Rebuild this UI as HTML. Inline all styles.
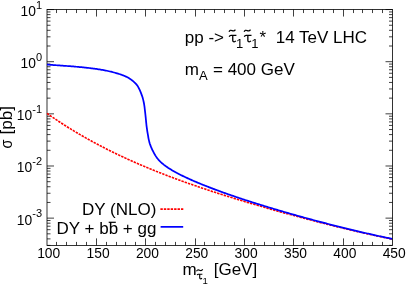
<!DOCTYPE html>
<html><head><meta charset="utf-8"><style>
html,body{margin:0;padding:0;background:#fff;}
svg{display:block;}
text{font-family:"Liberation Sans",sans-serif;fill:#000;}
</style></head><body>
<svg width="407" height="285" viewBox="0 0 407 285">
<rect width="407" height="285" fill="#fff"/>
<path d="M56.50,245.40v-3.5M56.50,9.55v3.5M66.50,245.40v-3.5M66.50,9.55v3.5M76.50,245.40v-3.5M76.50,9.55v3.5M86.50,245.40v-3.5M86.50,9.55v3.5M96.50,245.40v-7.0M96.50,9.55v7.0M106.50,245.40v-3.5M106.50,9.55v3.5M116.50,245.40v-3.5M116.50,9.55v3.5M125.50,245.40v-3.5M125.50,9.55v3.5M135.50,245.40v-3.5M135.50,9.55v3.5M145.50,245.40v-7.0M145.50,9.55v7.0M155.50,245.40v-3.5M155.50,9.55v3.5M165.50,245.40v-3.5M165.50,9.55v3.5M175.50,245.40v-3.5M175.50,9.55v3.5M185.50,245.40v-3.5M185.50,9.55v3.5M195.50,245.40v-7.0M195.50,9.55v7.0M204.50,245.40v-3.5M204.50,9.55v3.5M214.50,245.40v-3.5M214.50,9.55v3.5M224.50,245.40v-3.5M224.50,9.55v3.5M234.50,245.40v-3.5M234.50,9.55v3.5M244.50,245.40v-7.0M244.50,9.55v7.0M254.50,245.40v-3.5M254.50,9.55v3.5M264.50,245.40v-3.5M264.50,9.55v3.5M274.50,245.40v-3.5M274.50,9.55v3.5M283.50,245.40v-3.5M283.50,9.55v3.5M293.50,245.40v-7.0M293.50,9.55v7.0M303.50,245.40v-3.5M303.50,9.55v3.5M313.50,245.40v-3.5M313.50,9.55v3.5M323.50,245.40v-3.5M323.50,9.55v3.5M333.50,245.40v-3.5M333.50,9.55v3.5M343.50,245.40v-7.0M343.50,9.55v7.0M353.50,245.40v-3.5M353.50,9.55v3.5M362.50,245.40v-3.5M362.50,9.55v3.5M372.50,245.40v-3.5M372.50,9.55v3.5M382.50,245.40v-3.5M382.50,9.55v3.5M47.00,245.40h3.5M392.50,245.40h-3.5M47.00,238.88h3.5M392.50,238.88h-3.5M47.00,233.83h3.5M392.50,233.83h-3.5M47.00,229.70h3.5M392.50,229.70h-3.5M47.00,226.21h3.5M392.50,226.21h-3.5M47.00,223.19h3.5M392.50,223.19h-3.5M47.00,220.52h3.5M392.50,220.52h-3.5M47.00,218.13h7.0M392.50,218.13h-7.0M47.00,202.44h3.5M392.50,202.44h-3.5M47.00,193.25h3.5M392.50,193.25h-3.5M47.00,186.74h3.5M392.50,186.74h-3.5M47.00,181.69h3.5M392.50,181.69h-3.5M47.00,177.56h3.5M392.50,177.56h-3.5M47.00,174.07h3.5M392.50,174.07h-3.5M47.00,171.04h3.5M392.50,171.04h-3.5M47.00,168.37h3.5M392.50,168.37h-3.5M47.00,165.99h7.0M392.50,165.99h-7.0M47.00,150.29h3.5M392.50,150.29h-3.5M47.00,141.11h3.5M392.50,141.11h-3.5M47.00,134.59h3.5M392.50,134.59h-3.5M47.00,129.54h3.5M392.50,129.54h-3.5M47.00,125.41h3.5M392.50,125.41h-3.5M47.00,121.92h3.5M392.50,121.92h-3.5M47.00,118.90h3.5M392.50,118.90h-3.5M47.00,116.23h3.5M392.50,116.23h-3.5M47.00,113.84h7.0M392.50,113.84h-7.0M47.00,98.14h3.5M392.50,98.14h-3.5M47.00,88.96h3.5M392.50,88.96h-3.5M47.00,82.45h3.5M392.50,82.45h-3.5M47.00,77.39h3.5M392.50,77.39h-3.5M47.00,73.26h3.5M392.50,73.26h-3.5M47.00,69.77h3.5M392.50,69.77h-3.5M47.00,66.75h3.5M392.50,66.75h-3.5M47.00,64.08h3.5M392.50,64.08h-3.5M47.00,61.70h7.0M392.50,61.70h-7.0M47.00,46.00h3.5M392.50,46.00h-3.5M47.00,36.82h3.5M392.50,36.82h-3.5M47.00,30.30h3.5M392.50,30.30h-3.5M47.00,25.25h3.5M392.50,25.25h-3.5M47.00,21.12h3.5M392.50,21.12h-3.5M47.00,17.63h3.5M392.50,17.63h-3.5M47.00,14.60h3.5M392.50,14.60h-3.5M47.00,11.94h3.5M392.50,11.94h-3.5M47.00,9.55h7.0M392.50,9.55h-7.0" fill="none" stroke="#000" stroke-width="0.75"/>
<rect x="47.0" y="9.55" width="345.50" height="235.85" fill="none" stroke="#000" stroke-width="0.8"/>
<path d="M47.00,113.39 L47.76,113.92 L48.52,114.45 L49.28,114.98 L50.04,115.51 L50.80,116.04 L51.56,116.56 L52.32,117.09 L53.09,117.61 L53.86,118.13 L54.62,118.65 L55.39,119.16 L56.16,119.68 L56.93,120.19 L57.70,120.71 L58.48,121.22 L59.25,121.73 L60.02,122.23 L60.80,122.74 L61.58,123.25 L62.35,123.75 L63.13,124.25 L63.91,124.75 L64.69,125.25 L65.47,125.74 L66.26,126.24 L67.04,126.73 L67.83,127.23 L68.61,127.72 L69.40,128.20 L70.19,128.69 L70.97,129.18 L71.76,129.66 L72.55,130.14 L73.35,130.62 L74.14,131.10 L74.93,131.58 L75.73,132.06 L76.52,132.53 L77.32,133.01 L78.12,133.48 L78.91,133.95 L79.71,134.42 L80.51,134.88 L81.31,135.35 L82.12,135.81 L82.92,136.27 L83.72,136.73 L84.53,137.19 L85.33,137.65 L86.14,138.11 L86.94,138.56 L87.75,139.01 L88.56,139.47 L89.37,139.92 L90.18,140.36 L90.99,140.81 L91.80,141.26 L92.62,141.70 L93.43,142.14 L94.25,142.58 L95.06,143.02 L95.88,143.46 L96.69,143.90 L97.51,144.33 L98.33,144.77 L99.15,145.20 L99.97,145.63 L100.79,146.06 L101.61,146.48 L102.43,146.91 L103.26,147.33 L104.08,147.76 L104.91,148.18 L105.73,148.60 L106.56,149.02 L107.38,149.44 L108.21,149.85 L109.04,150.27 L109.87,150.68 L110.70,151.09 L111.53,151.50 L112.36,151.91 L113.19,152.32 L114.02,152.72 L114.86,153.13 L115.69,153.53 L116.53,153.93 L117.36,154.33 L118.20,154.73 L119.03,155.13 L119.87,155.53 L120.71,155.92 L121.55,156.31 L122.39,156.71 L123.23,157.10 L124.07,157.49 L124.91,157.88 L125.75,158.26 L126.59,158.65 L127.43,159.03 L128.28,159.42 L129.12,159.80 L129.96,160.18 L130.81,160.56 L131.66,160.94 L132.50,161.31 L133.35,161.69 L134.20,162.06 L135.04,162.43 L135.89,162.81 L136.74,163.18 L137.59,163.55 L138.44,163.91 L139.29,164.28 L140.14,164.65 L140.99,165.01 L141.85,165.37 L142.70,165.73 L143.55,166.10 L144.40,166.45 L145.26,166.81 L146.11,167.17 L146.97,167.53 L147.82,167.88 L148.68,168.23 L149.54,168.59 L150.39,168.94 L151.25,169.29 L152.11,169.64 L152.97,169.99 L153.83,170.33 L154.68,170.68 L155.54,171.02 L156.40,171.37 L157.26,171.71 L158.13,172.05 L158.99,172.39 L159.85,172.73 L160.71,173.07 L161.57,173.41 L162.44,173.74 L163.30,174.08 L164.16,174.41 L165.03,174.75 L165.89,175.08 L166.76,175.41 L167.62,175.74 L168.49,176.07 L169.35,176.40 L170.22,176.72 L171.09,177.05 L171.96,177.37 L172.82,177.70 L173.69,178.02 L174.56,178.34 L175.43,178.67 L176.30,178.99 L177.17,179.31 L178.04,179.62 L178.91,179.94 L179.78,180.26 L180.65,180.58 L181.52,180.89 L182.39,181.20 L183.26,181.52 L184.13,181.83 L185.00,182.14 L185.88,182.45 L186.75,182.76 L187.62,183.07 L188.50,183.38 L189.37,183.69 L190.24,183.99 L191.12,184.30 L191.99,184.60 L192.87,184.91 L193.74,185.21 L194.62,185.51 L195.49,185.81 L196.37,186.12 L197.25,186.42 L198.12,186.72 L199.00,187.01 L199.88,187.31 L200.75,187.61 L201.63,187.90 L202.51,188.20 L203.39,188.50 L204.27,188.79 L205.14,189.08 L206.02,189.38 L206.90,189.67 L207.78,189.96 L208.66,190.25 L209.54,190.54 L210.42,190.83 L211.30,191.12 L212.18,191.40 L213.06,191.69 L213.94,191.98 L214.82,192.26 L215.70,192.55 L216.59,192.83 L217.47,193.12 L218.35,193.40 L219.23,193.68 L220.11,193.96 L221.00,194.25 L221.88,194.53 L222.76,194.81 L223.64,195.09 L224.53,195.36 L225.41,195.64 L226.29,195.92 L227.18,196.20 L228.06,196.47 L228.95,196.75 L229.83,197.02 L230.72,197.30 L231.60,197.57 L232.49,197.85 L233.37,198.12 L234.26,198.39 L235.14,198.66 L236.03,198.94 L236.91,199.21 L237.80,199.48 L238.68,199.75 L239.57,200.02 L240.46,200.28 L241.34,200.55 L242.23,200.82 L243.12,201.09 L244.00,201.35 L244.89,201.62 L245.78,201.89 L246.67,202.15 L247.55,202.42 L248.44,202.68 L249.33,202.94 L250.22,203.21 L251.11,203.47 L251.99,203.73 L252.88,203.99 L253.77,204.25 L254.66,204.51 L255.55,204.78 L256.44,205.03 L257.33,205.29 L258.22,205.55 L259.10,205.81 L259.99,206.07 L260.88,206.33 L261.77,206.58 L262.66,206.84 L263.55,207.10 L264.44,207.35 L265.33,207.61 L266.22,207.86 L267.12,208.12 L268.01,208.37 L268.90,208.62 L269.79,208.88 L270.68,209.13 L271.57,209.38 L272.46,209.64 L273.35,209.89 L274.24,210.14 L275.14,210.39 L276.03,210.64 L276.92,210.89 L277.81,211.14 L278.70,211.39 L279.60,211.63 L280.49,211.88 L281.38,212.13 L282.27,212.38 L283.17,212.62 L284.06,212.87 L284.95,213.12 L285.84,213.36 L286.74,213.61 L287.63,213.85 L288.52,214.10 L289.42,214.34 L290.31,214.59 L291.20,214.83 L292.10,215.07 L292.99,215.31 L293.89,215.56 L294.78,215.80 L295.68,216.04 L296.57,216.28 L297.46,216.52 L298.36,216.76 L299.25,217.00 L300.15,217.24 L301.04,217.48 L301.94,217.72 L302.83,217.95 L303.73,218.19 L304.62,218.43 L305.52,218.67 L306.41,218.90 L307.31,219.14 L308.21,219.37 L309.10,219.61 L310.00,219.84 L310.89,220.08 L311.79,220.31 L312.69,220.54 L313.58,220.78 L314.48,221.01 L315.38,221.24 L316.27,221.47 L317.17,221.71 L318.07,221.94 L318.96,222.17 L319.86,222.40 L320.76,222.63 L321.65,222.86 L322.55,223.08 L323.45,223.31 L324.35,223.54 L325.25,223.77 L326.14,224.00 L327.04,224.22 L327.94,224.45 L328.84,224.67 L329.74,224.90 L330.64,225.12 L331.53,225.35 L332.43,225.57 L333.33,225.79 L334.23,226.02 L335.13,226.24 L336.03,226.46 L336.93,226.68 L337.83,226.90 L338.73,227.12 L339.63,227.34 L340.53,227.56 L341.43,227.78 L342.33,228.00 L343.23,228.22 L344.13,228.43 L345.03,228.65 L345.93,228.87 L346.83,229.08 L347.73,229.30 L348.63,229.51 L349.53,229.73 L350.43,229.94 L351.34,230.15 L352.24,230.37 L353.14,230.58 L354.04,230.79 L354.94,231.00 L355.84,231.21 L356.75,231.42 L357.65,231.63 L358.55,231.84 L359.45,232.04 L360.36,232.25 L361.26,232.46 L362.16,232.66 L363.07,232.87 L363.97,233.07 L364.87,233.28 L365.78,233.48 L366.68,233.68 L367.58,233.88 L368.49,234.08 L369.39,234.28 L370.30,234.48 L371.20,234.68 L372.11,234.88 L373.01,235.08 L373.92,235.28 L374.82,235.47 L375.73,235.67 L376.63,235.86 L377.54,236.06 L378.44,236.25 L379.35,236.44 L380.26,236.63 L381.16,236.83 L382.07,237.02 L382.97,237.21 L383.88,237.39 L384.79,237.58 L385.70,237.77 L386.60,237.96 L387.51,238.14 L388.42,238.32 L389.33,238.51 L390.23,238.69 L391.14,238.87 L392.05,239.05" fill="none" stroke="#ff0000" stroke-width="1.6" stroke-dasharray="2.4 1.03"/>
<path d="M47.00,64.60 L48.05,64.67 L49.11,64.74 L50.16,64.81 L51.21,64.89 L52.27,64.96 L53.32,65.03 L54.37,65.10 L55.43,65.18 L56.48,65.25 L57.53,65.32 L58.59,65.40 L59.64,65.47 L60.69,65.55 L61.75,65.62 L62.80,65.70 L63.85,65.77 L64.91,65.85 L65.96,65.92 L67.01,66.00 L68.07,66.08 L69.12,66.15 L70.17,66.23 L71.22,66.32 L72.28,66.40 L73.33,66.49 L74.38,66.57 L75.43,66.66 L76.49,66.75 L77.54,66.84 L78.59,66.94 L79.64,67.03 L80.69,67.13 L81.74,67.23 L82.80,67.33 L83.85,67.43 L84.90,67.54 L85.95,67.65 L87.00,67.77 L88.05,67.88 L89.09,68.00 L90.14,68.13 L91.19,68.26 L92.24,68.39 L93.29,68.52 L94.33,68.66 L95.38,68.81 L96.43,68.95 L97.47,69.11 L98.52,69.27 L99.56,69.43 L100.60,69.59 L101.64,69.77 L102.68,69.94 L103.72,70.13 L104.76,70.33 L105.79,70.54 L106.82,70.77 L107.86,71.00 L108.88,71.24 L109.91,71.48 L110.94,71.72 L111.97,71.97 L112.99,72.23 L114.02,72.49 L115.04,72.76 L116.06,73.04 L117.07,73.33 L118.08,73.64 L119.08,73.96 L120.09,74.29 L121.09,74.64 L122.09,75.00 L123.08,75.38 L124.07,75.77 L125.04,76.18 L126.00,76.62 L126.94,77.07 L127.87,77.55 L128.79,78.08 L129.69,78.64 L130.58,79.23 L131.44,79.86 L132.27,80.50 L133.08,81.16 L133.88,81.86 L134.68,82.58 L135.44,83.34 L136.17,84.12 L136.85,84.92 L137.47,85.75 L138.02,86.62 L138.53,87.55 L139.01,88.51 L139.46,89.47 L139.90,90.43 L140.33,91.40 L140.74,92.37 L141.13,93.36 L141.50,94.34 L141.85,95.34 L142.19,96.34 L142.51,97.35 L142.82,98.36 L143.09,99.38 L143.34,100.40 L143.58,101.43 L143.80,102.46 L144.00,103.50 L144.17,104.54 L144.33,105.59 L144.48,106.63 L144.61,107.68 L144.73,108.73 L144.86,109.78 L144.98,110.83 L145.10,111.88 L145.22,112.93 L145.33,113.97 L145.45,115.02 L145.55,116.07 L145.66,117.13 L145.77,118.18 L145.87,119.23 L145.98,120.28 L146.07,121.33 L146.17,122.38 L146.28,123.43 L146.39,124.48 L146.51,125.53 L146.64,126.58 L146.78,127.62 L146.92,128.67 L147.07,129.72 L147.23,130.76 L147.39,131.80 L147.57,132.84 L147.74,133.89 L147.92,134.93 L148.10,135.97 L148.27,137.01 L148.45,138.05 L148.65,139.09 L148.87,140.12 L149.12,141.15 L149.39,142.17 L149.68,143.18 L150.00,144.19 L150.34,145.19 L150.72,146.17 L151.12,147.15 L151.55,148.12 L151.98,149.08 L152.43,150.04 L152.89,150.99 L153.37,151.93 L153.87,152.86 L154.38,153.78 L154.92,154.69 L155.47,155.60 L156.04,156.49 L156.64,157.36 L157.26,158.21 L157.92,159.03 L158.61,159.83 L159.33,160.61 L160.06,161.37 L160.82,162.11 L161.59,162.82 L162.38,163.52 L163.20,164.20 L164.02,164.86 L164.86,165.50 L165.71,166.13 L166.57,166.74 L167.44,167.34 L168.31,167.93 L169.20,168.50 L170.09,169.07 L170.99,169.62 L171.90,170.16 L172.81,170.70 L173.73,171.22 L174.65,171.74 L175.57,172.25 L176.50,172.75 L177.43,173.25 L178.37,173.74 L179.30,174.22 L180.25,174.70 L181.19,175.17 L182.14,175.64 L183.09,176.10 L184.04,176.56 L184.99,177.02 L185.95,177.47 L186.90,177.91 L187.86,178.35 L188.82,178.79 L189.78,179.23 L190.75,179.66 L191.71,180.08 L192.68,180.51 L193.65,180.93 L194.62,181.35 L195.59,181.76 L196.56,182.17 L197.54,182.58 L198.51,182.99 L199.48,183.39 L200.46,183.80 L201.44,184.19 L202.42,184.59 L203.40,184.99 L204.38,185.38 L205.36,185.77 L206.34,186.16 L207.32,186.54 L208.31,186.93 L209.29,187.31 L210.28,187.69 L211.26,188.06 L212.25,188.44 L213.24,188.81 L214.23,189.19 L215.21,189.56 L216.20,189.92 L217.19,190.29 L218.19,190.66 L219.18,191.02 L220.17,191.38 L221.16,191.74 L222.15,192.10 L223.15,192.46 L224.14,192.81 L225.14,193.16 L226.13,193.52 L227.13,193.87 L228.12,194.22 L229.12,194.57 L230.12,194.91 L231.12,195.26 L232.11,195.60 L233.11,195.94 L234.11,196.29 L235.11,196.63 L236.11,196.96 L237.11,197.30 L238.11,197.64 L239.11,197.97 L240.12,198.31 L241.12,198.64 L242.12,198.97 L243.12,199.30 L244.13,199.63 L245.13,199.96 L246.13,200.29 L247.14,200.61 L248.14,200.94 L249.15,201.26 L250.15,201.59 L251.16,201.91 L252.16,202.23 L253.17,202.55 L254.18,202.87 L255.18,203.19 L256.19,203.50 L257.20,203.82 L258.21,204.13 L259.21,204.45 L260.22,204.76 L261.23,205.07 L262.24,205.39 L263.25,205.70 L264.26,206.01 L265.27,206.31 L266.28,206.62 L267.29,206.93 L268.30,207.24 L269.31,207.54 L270.32,207.85 L271.33,208.15 L272.34,208.45 L273.36,208.75 L274.37,209.06 L275.38,209.36 L276.39,209.66 L277.40,209.96 L278.42,210.25 L279.43,210.55 L280.44,210.85 L281.46,211.14 L282.47,211.44 L283.48,211.73 L284.50,212.03 L285.51,212.32 L286.53,212.61 L287.54,212.90 L288.56,213.20 L289.57,213.49 L290.59,213.78 L291.60,214.06 L292.62,214.35 L293.64,214.64 L294.65,214.93 L295.67,215.21 L296.69,215.50 L297.70,215.78 L298.72,216.07 L299.74,216.35 L300.75,216.63 L301.77,216.91 L302.79,217.19 L303.81,217.47 L304.82,217.75 L305.84,218.03 L306.86,218.31 L307.88,218.59 L308.90,218.87 L309.92,219.14 L310.94,219.42 L311.96,219.69 L312.98,219.97 L314.00,220.24 L315.02,220.52 L316.04,220.79 L317.06,221.06 L318.08,221.33 L319.10,221.60 L320.12,221.87 L321.14,222.14 L322.16,222.41 L323.18,222.68 L324.20,222.94 L325.23,223.21 L326.25,223.47 L327.27,223.74 L328.29,224.00 L329.31,224.27 L330.34,224.53 L331.36,224.79 L332.38,225.05 L333.41,225.31 L334.43,225.57 L335.45,225.83 L336.48,226.09 L337.50,226.35 L338.52,226.61 L339.55,226.86 L340.57,227.12 L341.60,227.37 L342.62,227.63 L343.65,227.88 L344.67,228.13 L345.70,228.39 L346.72,228.64 L347.75,228.89 L348.78,229.14 L349.80,229.39 L350.83,229.63 L351.85,229.88 L352.88,230.13 L353.91,230.37 L354.93,230.62 L355.96,230.86 L356.99,231.11 L358.02,231.35 L359.05,231.59 L360.07,231.83 L361.10,232.07 L362.13,232.31 L363.16,232.55 L364.19,232.78 L365.22,233.02 L366.25,233.25 L367.28,233.49 L368.31,233.72 L369.34,233.95 L370.37,234.19 L371.40,234.42 L372.43,234.65 L373.46,234.88 L374.49,235.10 L375.52,235.33 L376.55,235.56 L377.58,235.78 L378.61,236.00 L379.65,236.23 L380.68,236.45 L381.71,236.67 L382.74,236.89 L383.78,237.11 L384.81,237.32 L385.84,237.54 L386.88,237.75 L387.91,237.97 L388.95,238.18 L389.98,238.39 L391.02,238.60 L392.05,238.81" fill="none" stroke="#0000ff" stroke-width="1.75" stroke-linejoin="round"/>
<g font-size="13.8" style="will-change:transform"><text x="48.70" y="258.2" text-anchor="middle">100</text><text x="98.06" y="258.2" text-anchor="middle">150</text><text x="147.41" y="258.2" text-anchor="middle">200</text><text x="196.77" y="258.2" text-anchor="middle">250</text><text x="246.13" y="258.2" text-anchor="middle">300</text><text x="295.49" y="258.2" text-anchor="middle">350</text><text x="344.84" y="258.2" text-anchor="middle">400</text><text x="394.20" y="258.2" text-anchor="middle">450</text><text x="42.0" y="15.95" text-anchor="end">10<tspan dy="-7.1" font-size="11">1</tspan></text><text x="42.0" y="68.10" text-anchor="end">10<tspan dy="-7.1" font-size="11">0</tspan></text><text x="42.0" y="120.24" text-anchor="end">10<tspan dy="-7.1" font-size="11">-1</tspan></text><text x="42.0" y="172.39" text-anchor="end">10<tspan dy="-7.1" font-size="11">-2</tspan></text><text x="42.0" y="224.53" text-anchor="end">10<tspan dy="-7.1" font-size="11">-3</tspan></text></g>
<g font-size="17" style="will-change:transform">
<text x="184.8" y="42.7">pp -&gt;</text>
<path transform="translate(228.9,34.8)" d="M0.3,1.9Q0.8,0.65 2.1,0.65H7.5M3.85,0.65V5.4Q3.85,7.0 5.2,7.0Q6.2,7.0 6.9,6.1" fill="none" stroke="#000" stroke-width="1.3"/><path transform="translate(229.0,29.5)" d="M0,2.3Q0.9,0.0 3.1,1.1T6.4,0.1" fill="none" stroke="#000" stroke-width="1.2"/>
<text x="236.0" y="48.2" font-size="13">1</text>
<path transform="translate(244.0,34.8)" d="M0.3,1.9Q0.8,0.65 2.1,0.65H7.5M3.85,0.65V5.4Q3.85,7.0 5.2,7.0Q6.2,7.0 6.9,6.1" fill="none" stroke="#000" stroke-width="1.3"/><path transform="translate(244.1,29.5)" d="M0,2.3Q0.9,0.0 3.1,1.1T6.4,0.1" fill="none" stroke="#000" stroke-width="1.2"/>
<text x="251.2" y="48.2" font-size="13">1</text>
<text x="259.4" y="42.7">*</text>
<text x="275.7" y="42.7">14 TeV LHC</text>
<text x="184.8" y="74.8">m</text><text x="198.9" y="80.0" font-size="13">A</text><text x="213.0" y="74.8">= 400 GeV</text>
<text x="156.4" y="214.7" text-anchor="end">DY (NLO)</text>
<text x="156.4" y="234.2" text-anchor="end">DY + bb + gg</text><path d="M108.7,222.3H115.8" stroke="#000" stroke-width="1.2"/>
<text transform="translate(12.0,148.4) rotate(-90) scale(0.88,1)" font-size="16.5">&#963;</text><text transform="translate(12.0,134.5) rotate(-90)">[pb]</text>
<text x="182.6" y="274.7">m</text>
<path transform="translate(196.9,273.75) scale(0.73)" d="M0.3,1.9Q0.8,0.65 2.1,0.65H7.5M3.85,0.65V5.4Q3.85,7.0 5.2,7.0Q6.2,7.0 6.9,6.1" fill="none" stroke="#000" stroke-width="1.55"/><path transform="translate(196.5,269.1) scale(0.97)" d="M0,2.3Q0.9,0.0 3.1,1.1T6.4,0.1" fill="none" stroke="#000" stroke-width="1.2"/>
<text x="202.6" y="283.6" font-size="9.6">1</text>
<text x="213.7" y="274.7">[GeV]</text>
</g>
<path d="M160.4,209.1H183.3" stroke="#ff0000" stroke-width="1.6" stroke-dasharray="2.4 1.03"/>
<path d="M160.6,226.85H183.2" stroke="#0000ff" stroke-width="1.75"/>
</svg>
</body></html>
